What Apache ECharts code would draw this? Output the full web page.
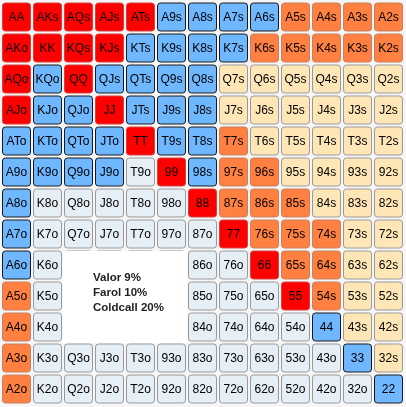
<!DOCTYPE html>
<html>
<head>
<meta charset="utf-8">
<script src="https://cdn.jsdelivr.net/npm/echarts@6/dist/echarts.min.js"></script>
<style>
  html, body { margin: 0; padding: 0; background: #f6f6f6; }
  #main { width: 406px; height: 407px; }
</style>
</head>
<body>
<div id="main"></div>
<script>
// Hand ranks, top to bottom and left to right
const ranks = ["A", "K", "Q", "J", "T", "9", "8", "7", "6", "5", "4", "3", "2"];

// Range per row: R = valor, B = coldcall, O = farol, P = farol suited, L = fold
const rangeRows = [
  "RRRRRBBBBOOOO",
  "RRRRBBBBOOOOO",
  "RBRBBBBPPPPPP",
  "RBBRBBBPPPPPP",
  "BBBBRBBOPPPPP",
  "BBBBLRBOOPPPP",
  "BLLLLLROOOPPP",
  "BLLLLLLROOOPP",
  "BLLLLLLLROOPP",
  "OLLLLLLLLROPP",
  "OLLLLLLLLLBPP",
  "OLLLLLLLLLLBP",
  "OLLLLLLLLLLLB",
];

// Legend text in the box
const noteLines = ["Valor 9%", "Farol 10%", "Coldcall 20%"];

// Colors for each group
const fills = { R: "#ff0000", B: "#6fb7ff", O: "#ff8040", P: "#ffe6b7", L: "#e6eef6" };
const borders = { R: "#d84040", B: "#1a1a1a", O: "#c88060", P: "#9a9a9a", L: "#9a9a9a" };

// Build cells: [col, row, label, group]
const cells = [];
for (let r = 0; r < 13; r++) {
  for (let c = 0; c < 13; c++) {
    let label;
    if (r === c) label = ranks[r] + ranks[c];
    else if (c > r) label = ranks[r] + ranks[c] + "s";
    else label = ranks[c] + ranks[r] + "o";
    cells.push([c, r, label, rangeRows[r][c]]);
  }
}

const chart = echarts.init(document.getElementById("main"));

chart.setOption({
  backgroundColor: "#f6f6f6",
  animation: false,
  grid: { left: 1, top: 1.5, width: 403, height: 403 },
  xAxis: { type: "category", data: ranks, show: false },
  yAxis: { type: "category", data: ranks, show: false, inverse: true },
  series: [
    {
      type: "custom",
      data: cells,
      renderItem: (params, api) => {
        const p = api.coord([api.value(0), api.value(1)]);
        const s = api.size([1, 1]);
        const g = cells[params.dataIndex][3];
        const w = s[0] - 3;
        const h = s[1] - 3;
        return {
          type: "group",
          children: [
            {
              type: "rect",
              shape: { x: p[0] - w / 2, y: p[1] - h / 2, width: w, height: h, r: 3 },
              style: { fill: fills[g], stroke: borders[g], lineWidth: 1 },
            },
            {
              type: "text",
              style: {
                x: p[0],
                y: p[1] + 0.5,
                text: cells[params.dataIndex][2],
                align: "center",
                verticalAlign: "middle",
                fill: "#000",
                font: "12px 'Liberation Sans', Arial, sans-serif",
              },
            },
          ],
        };
      },
    },
  ],
  graphic: [
    {
      type: "rect",
      z: 100,
      shape: { x: 63, y: 251, width: 124, height: 92 },
      style: { fill: "#ffffff" },
    },
    {
      type: "text",
      z: 101,
      left: 93,
      top: 270,
      style: {
        text: noteLines.join("\n"),
        lineHeight: 15,
        fill: "#222",
        font: "bold 11.5px 'Liberation Sans', Arial, sans-serif",
      },
    },
  ],
});
</script>
</body>
</html>
